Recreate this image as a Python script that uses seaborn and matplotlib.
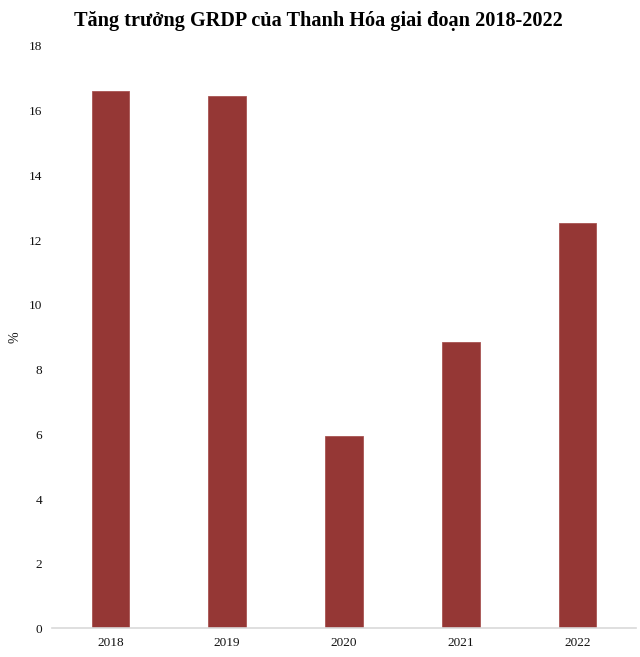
import matplotlib
matplotlib.use("Agg")
import matplotlib.pyplot as plt
import seaborn as sns
import pandas as pd

years = ["2018", "2019", "2020", "2021", "2022"]
growth = [16.62, 16.45, 5.94, 8.85, 12.52]
yticks = [0, 2, 4, 6, 8, 10, 12, 14, 16, 18]

sns.set_theme(style="white")
plt.rcParams['font.family'] = ['Liberation Serif', 'DejaVu Serif']

df = pd.DataFrame({"year": years, "growth": growth})

fig = plt.figure(figsize=(6.4, 6.57), dpi=100)
ax = fig.add_axes([0.081, 0.0434, 0.913, 0.8866])
sns.barplot(data=df, x="year", y="growth", color="#953735", width=0.32,
            saturation=1, ax=ax, edgecolor="#a85452", linewidth=0.6)
ax.set_ylim(0, 18)
ax.set_xlim(-0.5, 4.5)
ax.set_yticks(yticks)
ax.set_yticklabels([str(t) for t in yticks])
ax.tick_params(axis="both", length=0, labelsize=9.5, colors="#111111")
ax.tick_params(axis="y", pad=7)
ax.tick_params(axis="x", pad=6)
for s in ["top", "right", "left"]:
    ax.spines[s].set_visible(False)
ax.spines["bottom"].set_color("#d9d9d9")
ax.spines["bottom"].set_linewidth(1.2)
ax.set_xlabel("")
ax.set_ylabel("%", fontsize=10, color="#111111")
ax.yaxis.set_label_coords(-0.052, 0.5)
fig.suptitle("Tăng trưởng GRDP của Thanh Hóa giai đoạn 2018-2022",
             fontsize=14.6, fontweight="bold", y=0.984, x=0.498, color="black")
fig.savefig("out.png", dpi=100)
